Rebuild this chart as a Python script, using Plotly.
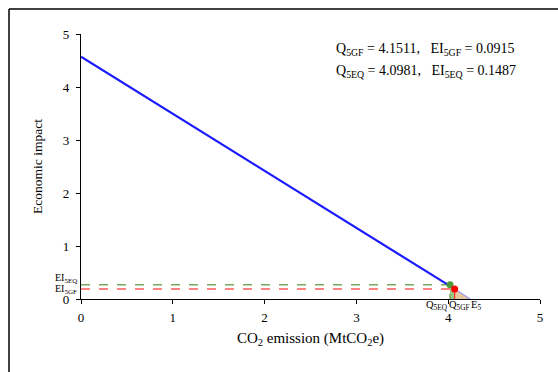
import plotly.graph_objects as go

# Data
line_x = [0.0, 4.07]
line_y = [4.57, 0.19]
Q5EQ, EI5EQ = 4.02, 0.27
Q5GF, EI5GF = 4.07, 0.19
E5 = 4.24
x_ticks = [0, 1, 2, 3, 4, 5]
y_ticks = [0, 1, 2, 3, 4, 5]
info_lines = [
    "Q<sub>5GF</sub> = 4.1511,   EI<sub>5GF</sub> = 0.0915",
    "Q<sub>5EQ</sub> = 4.0981,   EI<sub>5EQ</sub> = 0.1487",
]

FONT = "Liberation Serif, Times New Roman, serif"

fig = go.Figure()

# green shaded area between Q5EQ and Q5GF
fig.add_trace(go.Scatter(
    x=[Q5EQ, Q5EQ, Q5GF, Q5GF, Q5EQ], y=[0, EI5EQ, EI5GF, 0, 0],
    fill="toself", fillcolor="rgba(120,180,90,0.75)", line=dict(width=0),
    mode="lines", hoverinfo="skip", showlegend=False))
# tan shaded triangle between Q5GF and E5
fig.add_trace(go.Scatter(
    x=[Q5GF, Q5GF, E5, Q5GF], y=[0, EI5GF, 0, 0],
    fill="toself", fillcolor="rgba(225,190,140,0.85)", line=dict(width=0),
    mode="lines", hoverinfo="skip", showlegend=False))

# dashed guide lines
fig.add_trace(go.Scatter(x=[0, Q5EQ, Q5EQ], y=[EI5EQ, EI5EQ, 0], mode="lines",
                         line=dict(color="#7aa860", width=1.5, dash="dash"),
                         showlegend=False, hoverinfo="skip"))
fig.add_trace(go.Scatter(x=[0, Q5GF], y=[EI5GF, EI5GF], mode="lines",
                         line=dict(color="#ff5a5a", width=1.5, dash="dash"),
                         showlegend=False, hoverinfo="skip"))
fig.add_trace(go.Scatter(x=[Q5GF, Q5GF], y=[EI5GF, 0], mode="lines",
                         line=dict(color="#ff3030", width=1.2),
                         showlegend=False, hoverinfo="skip"))

# main blue line
fig.add_trace(go.Scatter(x=line_x, y=line_y, mode="lines",
                         line=dict(color="#1a1aff", width=2.2), showlegend=False))
# continuation to E5
fig.add_trace(go.Scatter(x=[Q5GF, E5], y=[EI5GF, 0], mode="lines",
                         line=dict(color="#9a9af0", width=1.2), showlegend=False))

# points
fig.add_trace(go.Scatter(x=[Q5EQ], y=[EI5EQ], mode="markers",
                         marker=dict(color="#4e9a3a", size=7), showlegend=False))
fig.add_trace(go.Scatter(x=[Q5GF], y=[EI5GF], mode="markers",
                         marker=dict(color="#ff0000", size=7), showlegend=False))

annotations = []
for i, t in enumerate(info_lines):
    annotations.append(dict(x=(334 - 81) / 459, y=(299 - 49 - i * 22) / 265,
                            xref="paper", yref="paper",
                            text=t, showarrow=False, xanchor="left", yanchor="middle",
                            font=dict(family=FONT, size=14, color="black")))
# x-position labels below axis
for xv, t, anc, xs in [(Q5EQ, "Q<sub>5EQ</sub>", "right", 0),
                       (Q5GF, "Q<sub>5GF</sub>", "center", 5),
                       (E5, "E<sub>5</sub>", "center", 6)]:
    annotations.append(dict(x=xv, y=0, xref="x", yref="paper", text=t,
                            showarrow=False, xanchor=anc, yanchor="top",
                            xshift=xs, yshift=2,
                            font=dict(family=FONT, size=10.5, color="black")))
# y-position labels
for yv, t, ys in [(EI5EQ, "EI<sub>5EQ</sub>", 6), (EI5GF, "EI<sub>5GF</sub>", -1)]:
    annotations.append(dict(x=-0.005, y=yv, xref="paper", yref="y", text=t,
                            showarrow=False, xanchor="right", yanchor="middle", yshift=ys,
                            font=dict(family=FONT, size=10, color="black")))

# outer frame: only left and top edges are visible in the picture
frame_x0 = (9 - 81) / 459
frame_y1 = (299 - 9) / 265
frame_x1 = (558 - 81) / 459
shapes = [
    dict(type="line", xref="paper", yref="paper", x0=frame_x0, x1=frame_x0,
         y0=-0.3, y1=frame_y1, line=dict(color="black", width=1.5), layer="below"),
    dict(type="line", xref="paper", yref="paper", x0=frame_x0, x1=frame_x1,
         y0=frame_y1, y1=frame_y1, line=dict(color="black", width=1.5), layer="below"),
]

fig.update_layout(
    width=558, height=372,
    margin=dict(l=81, r=18, t=34, b=73),
    paper_bgcolor="white", plot_bgcolor="white",
    font=dict(family=FONT, size=12, color="black"),
    annotations=annotations,
    shapes=shapes,
    xaxis=dict(range=[0, 5], tickvals=x_ticks, showgrid=False, zeroline=False,
               showline=True, linecolor="black", linewidth=1.2,
               ticks="outside", ticklen=4, tickcolor="black",
               ticklabelstandoff=2,
               tickfont=dict(family=FONT, size=13),
               title=dict(text="CO<sub>2</sub> emission (MtCO<sub>2</sub>e)",
                          font=dict(family=FONT, size=15), standoff=8)),
    yaxis=dict(range=[0, 5], tickvals=y_ticks, showgrid=False, zeroline=False,
               showline=True, linecolor="black", linewidth=1.2,
               ticks="outside", ticklen=4, tickcolor="black",
               ticklabelstandoff=4,
               tickfont=dict(family=FONT, size=13),
               title=dict(text="Economic impact", font=dict(family=FONT, size=13.5),
                          standoff=17)),
)

fig.write_html("out.html")
